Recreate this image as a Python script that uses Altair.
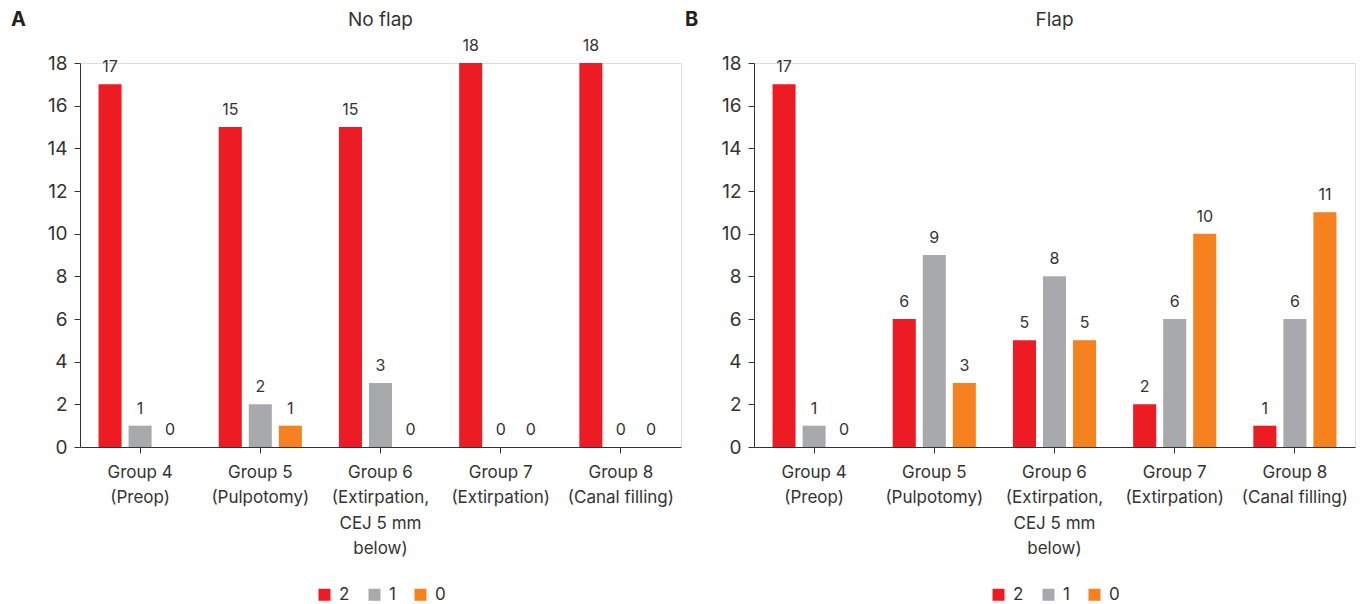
import altair as alt
import pandas as pd

groups = [
    "Group 4|(Preop)",
    "Group 5|(Pulpotomy)",
    "Group 6|(Extirpation,|CEJ 5 mm|below)",
    "Group 7|(Extirpation)",
    "Group 8|(Canal filling)",
]
categories = ["2", "1", "0"]
colors = ["#ED1C24", "#A7A9AC", "#F5821F"]

noflap_2 = [17, 15, 15, 18, 18]
noflap_1 = [1, 2, 3, 0, 0]
noflap_0 = [0, 1, 0, 0, 0]

flap_2 = [17, 6, 5, 2, 1]
flap_1 = [1, 9, 8, 6, 6]
flap_0 = [0, 3, 5, 10, 11]

FONT = "Inter"
TXT = "#333333"
W, H = 601, 384


def make_df(s2, s1, s0):
    rows = []
    for i, g in enumerate(groups):
        for c, s in zip(categories, [s2, s1, s0]):
            rows.append({"group": g, "cat": c, "value": s[i]})
    return pd.DataFrame(rows)


def panel(df, title, letter):
    base = alt.Chart(df).encode(
        x=alt.X(
            "group:N",
            sort=groups,
            title=None,
            scale=alt.Scale(paddingInner=0.25, paddingOuter=0.125),
            axis=alt.Axis(
                labelAngle=0,
                labelExpr="split(datum.label, '|')",
                labelFontSize=17,
                labelLineHeight=25.5,
                labelColor=TXT,
                labelFont=FONT,
                labelPadding=11,
                tickSize=6,
                tickColor=TXT,
                domainColor=TXT,
                labelBaseline="top",
            ),
        ),
        xOffset=alt.XOffset(
            "cat:N",
            sort=categories,
            scale=alt.Scale(paddingInner=0.233, paddingOuter=0.117),
        ),
        y=alt.Y(
            "value:Q",
            title=None,
            scale=alt.Scale(domain=[0, 18], nice=False),
            axis=alt.Axis(
                values=list(range(0, 19, 2)),
                grid=False,
                labelFontSize=19,
                labelColor=TXT,
                labelFont=FONT,
                labelPadding=7,
                tickSize=6,
                tickColor=TXT,
                domainColor=TXT,
            ),
        ),
    )
    bars = base.mark_bar().encode(
        color=alt.Color(
            "cat:N",
            sort=categories,
            scale=alt.Scale(domain=categories, range=colors),
            legend=alt.Legend(
                title=None,
                orient="none",
                direction="horizontal",
                legendX=236,
                legendY=523,
                symbolType="square",
                symbolSize=144,
                symbolStrokeWidth=0,
                labelFontSize=17,
                labelFont=FONT,
                labelColor=TXT,
                labelOffset=6,
                columnPadding=16,
            ),
        )
    )
    labels = base.mark_text(
        baseline="bottom", dy=-9, fontSize=16, font=FONT, color=TXT
    ).encode(text="value:Q")
    ann = pd.DataFrame({"t": [letter], "title": [title]})
    letter_mark = alt.Chart(ann).mark_text(
        align="left", baseline="middle", fontSize=20, fontWeight="bold",
        font=FONT, color="#231F20"
    ).encode(text="t:N", x=alt.value(-69), y=alt.value(-43))
    title_mark = alt.Chart(ann).mark_text(
        align="center", baseline="middle", fontSize=19, font=FONT, color=TXT
    ).encode(text="title:N", x=alt.value(W / 2), y=alt.value(-43))
    return alt.layer(bars, labels, letter_mark, title_mark).properties(
        width=W, height=H
    )


a = panel(make_df(noflap_2, noflap_1, noflap_0), "No flap", "A")
b = panel(make_df(flap_2, flap_1, flap_0), "Flap", "B")

chart = (
    alt.hconcat(a, b, spacing=2)
    .resolve_scale(color="independent")
    .resolve_legend(color="independent")
    .properties(padding={"left": 10, "top": 9, "right": 5, "bottom": 5})
    .configure_view(stroke=None)
    .configure(background="white")
)

chart.save("out.html", embed_options={"renderer": "svg", "actions": False})
